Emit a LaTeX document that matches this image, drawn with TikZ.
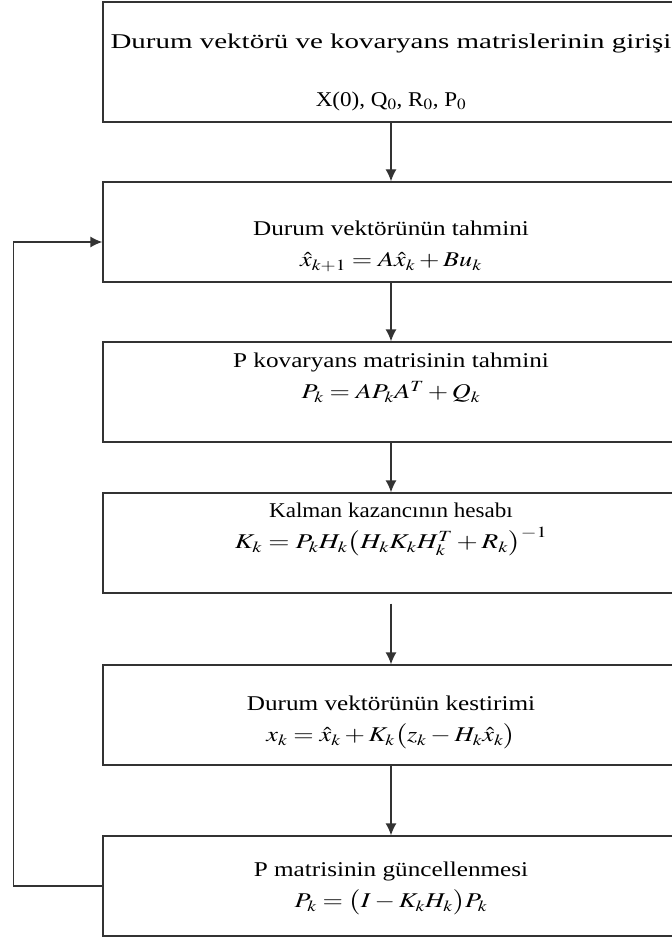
\documentclass[tikz,border=0pt]{standalone}
\usepackage{mathptmx}
\usepackage{fontspec}
\setmainfont{Liberation Serif}
\usepackage{graphicx}
\usepackage{tikz}
\usetikzlibrary{shapes,arrows,arrows.meta,calc}
\newcommand{\wide}[2][1.2]{\scalebox{#1}[1]{#2}}
\newcommand{\boxtext}[4][0pt]{\raisebox{#2}[\height][\depth]{\begin{tabular}{@{}c@{}}#3\\[#1] #4\end{tabular}}}
\tikzstyle{line} = [draw=black!80, -{Latex[length=12pt,width=11pt]}]
\tikzstyle{block} = [draw=black!80, rectangle, text centered, align=center, minimum width=576pt, minimum height=100pt, inner sep=0pt, font=\fontsize{21}{31}\selectfont]

\begin{document}
\begin{tikzpicture}[x=1pt, y=1pt, node distance=170pt, auto, line width=1.3pt]
        \useasboundingbox (0,0) rectangle (671,-941);
        \node[block, minimum height=120pt] (init) at (391,-62) {\boxtext[27pt]{-9pt}{\wide[1.38]{Durum vektörü ve kovaryans matrislerinin girişi}}{\wide[1.1]{X(0), Q$_0$, R$_0$, P$_0$}}};
        \node[block, below of=init] (predx) {\boxtext{-13pt}{\wide{Durum vektörünün tahmini}}{\wide[1.25]{$\hat{x}_{k+1} = A\hat{x}_k + Bu_k$}}};
        \node[block, below of=predx, node distance=160pt] (predp) {\boxtext{15pt}{\wide{P kovaryans matrisinin tahmini}}{\wide[1.25]{$P_k = AP_kA^T + Q_k$}}};
        \node[block, below of=predp, node distance=151pt] (gain) {\boxtext{16pt}{\wide[1.1]{Kalman kazancının hesabı}}{\wide[1.3]{$K_k = P_kH_k\bigl(H_kK_kH_k^T + R_k\bigr)^{-1}$}}};
        \node[block, below of=gain, node distance=172pt] (estx) {\boxtext{-5pt}{\wide{Durum vektörünün kestirimi}}{\wide[1.25]{$x_k = \hat{x}_k + K_k\bigl(z_k - H_k\hat{x}_k\bigr)$}}};
        \node[block, below of=estx, node distance=171pt] (updp) {\boxtext{0pt}{\wide{P matrisinin güncellenmesi}}{\wide[1.25]{$P_k = \bigl(I - K_kH_k\bigr)P_k$}}};
        \path[line] (init) -- (predx);
        \path[line] (predx) -- (predp);
        \path[line] (predp) -- (gain);
        \path[line, shorten <=10pt] (gain) -- (estx);
        \path[line] (estx) -- (updp);
        \path[line] (updp.west) -- ++(-89,0) |- ([yshift=-10pt]predx.west);
    \end{tikzpicture}
\end{document}
